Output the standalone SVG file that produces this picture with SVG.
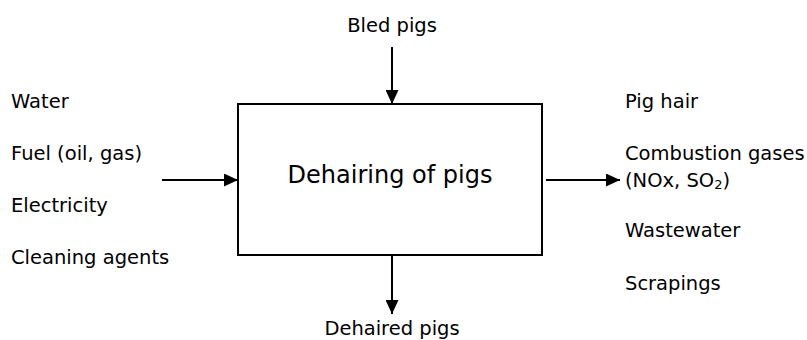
<svg xmlns="http://www.w3.org/2000/svg" width="807" height="340" viewBox="0 0 807 340">
<style>
text{font-family:"DejaVu Sans","Verdana",sans-serif;font-size:19.5px;fill:#000}
.title{font-size:24px}
.box{fill:#fff;stroke:#000;stroke-width:2}
.conn{stroke:#000;stroke-width:2;fill:none}
</style>
<defs>
<marker id="ah" markerUnits="userSpaceOnUse" markerWidth="14" markerHeight="13" refX="14" refY="6.5" orient="auto">
<path d="M0,0 L14,6.5 L0,13 Z" fill="#000"/>
</marker>
</defs>
<rect width="807" height="340" fill="#fff"/>
<g id="process">
<rect class="box" x="238" y="104" width="304" height="151"/>
<text class="title" x="390" y="183" text-anchor="middle">Dehairing of pigs</text>
</g>
<g id="input-top">
<text x="392" y="32" text-anchor="middle">Bled pigs</text>
</g>
<g id="inputs-left">
<text x="11" y="108">Water</text>
<text x="11" y="160">Fuel (oil, gas)</text>
<text x="11" y="212">Electricity</text>
<text x="11" y="264">Cleaning agents</text>
</g>
<g id="outputs-right">
<text x="625" y="108">Pig hair</text>
<text x="625" y="160">Combustion gases</text>
<text x="625" y="187">(NOx, SO<tspan font-size="13" dy="2">2</tspan><tspan dy="-2">)</tspan></text>
<text x="625" y="237">Wastewater</text>
<text x="625" y="290">Scrapings</text>
</g>
<g id="output-bottom">
<text x="392" y="335" text-anchor="middle">Dehaired pigs</text>
</g>
<g id="connectors">
<line class="conn" x1="392" y1="47" x2="392" y2="104" marker-end="url(#ah)"/>
<line class="conn" x1="162" y1="180" x2="238" y2="180" marker-end="url(#ah)"/>
<line class="conn" x1="546" y1="180" x2="620" y2="180" marker-end="url(#ah)"/>
<line class="conn" x1="392" y1="255" x2="392" y2="314" marker-end="url(#ah)"/>
</g>
</svg>
